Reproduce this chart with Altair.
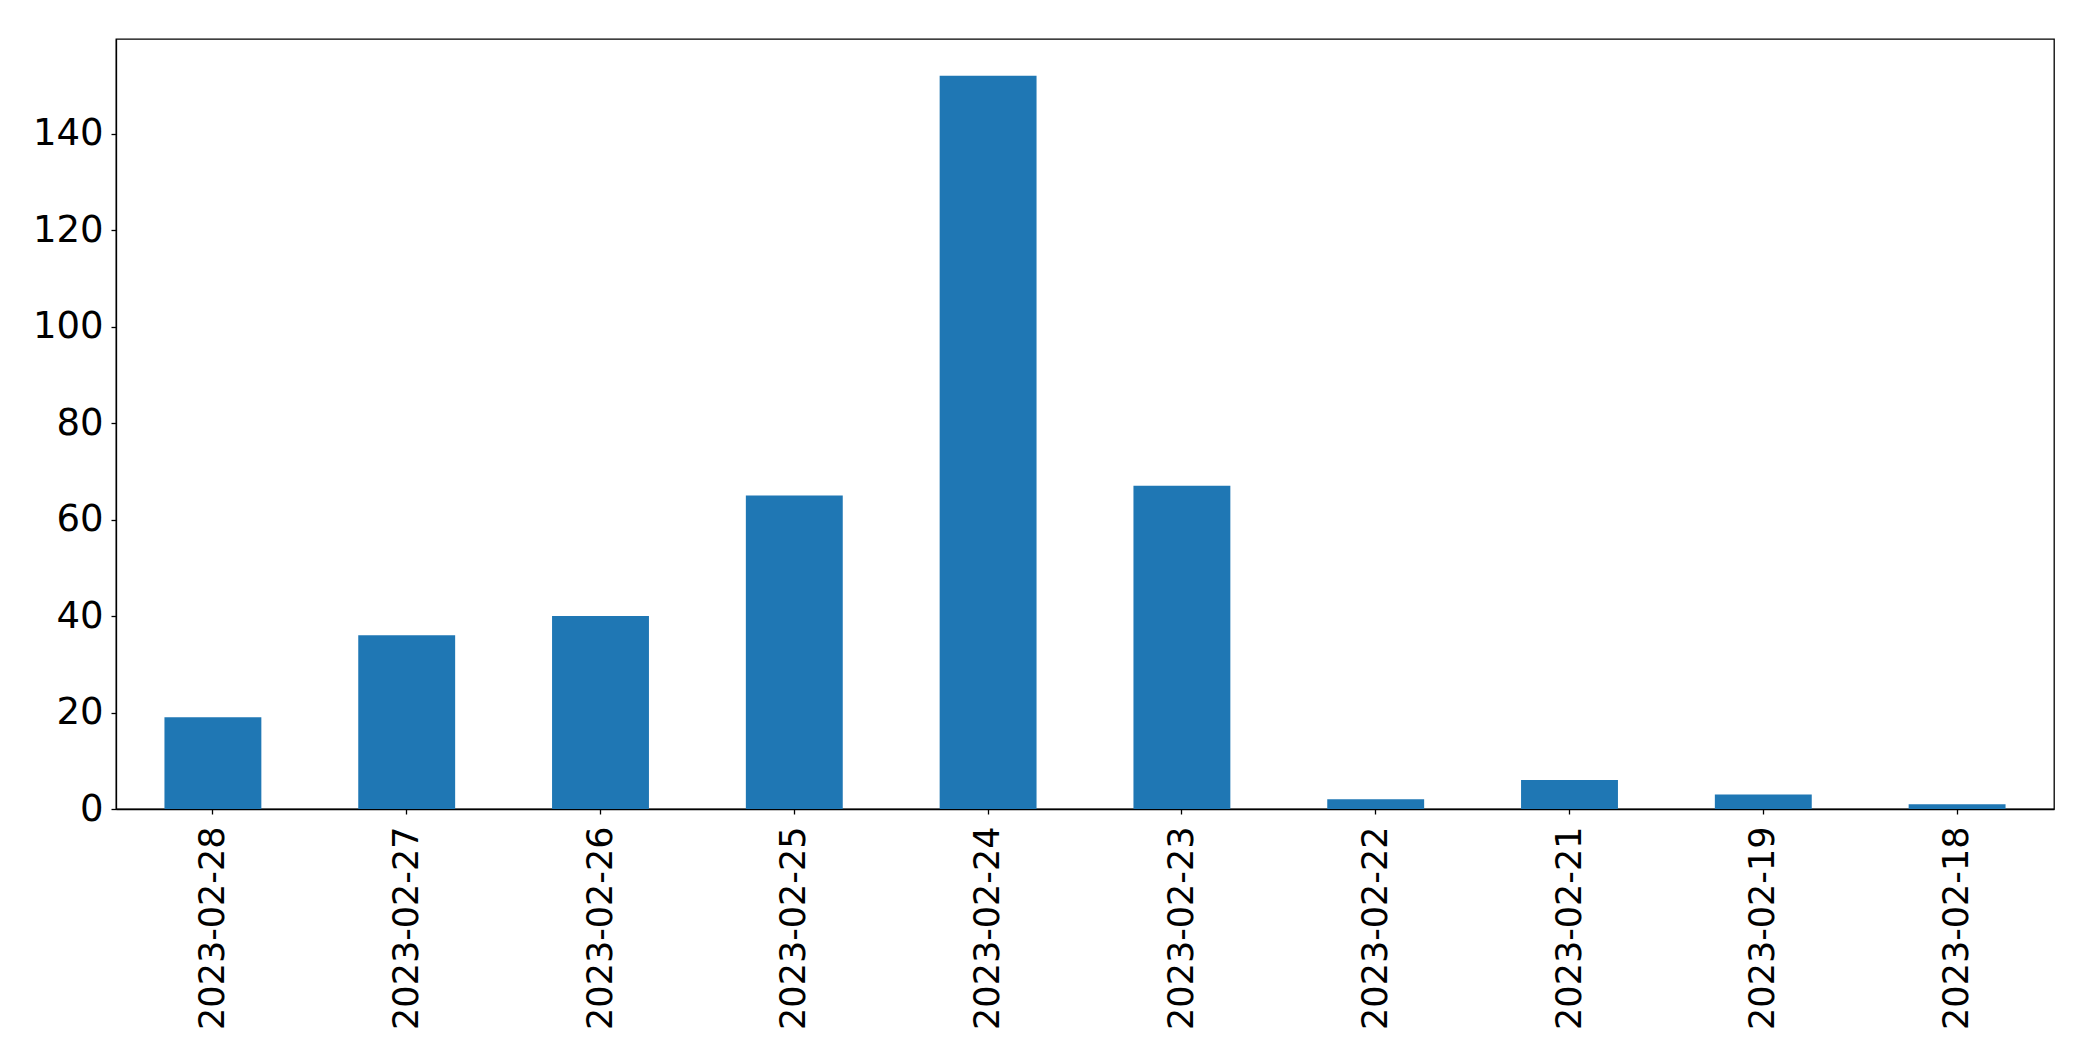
import altair as alt
import pandas as pd

dates = ["2023-02-28", "2023-02-27", "2023-02-26", "2023-02-25", "2023-02-24",
         "2023-02-23", "2023-02-22", "2023-02-21", "2023-02-19", "2023-02-18"]
counts = [19, 36, 40, 65, 152, 67, 2, 6, 3, 1]

df = pd.DataFrame({"date": dates, "count": counts})

FONT = "DejaVu Sans"

chart = alt.Chart(df).mark_bar(color="#1f77b4").encode(
    x=alt.X("date:N", sort=dates, title=None,
            scale=alt.Scale(paddingInner=0.5, paddingOuter=0.25),
            axis=alt.Axis(labelAngle=270, labelFontSize=35, labelFont=FONT,
                          labelColor="black", tickColor="black", domainColor="black",
                          tickSize=5, labelPadding=12, domainWidth=1.3, tickWidth=1.3,
                          labelOverlap=False, labelLimit=0)),
    y=alt.Y("count:Q", title=None,
            scale=alt.Scale(domain=[0, 159.6], nice=False, zero=True),
            axis=alt.Axis(values=[0, 20, 40, 60, 80, 100, 120, 140], grid=False,
                          labelFontSize=37, labelFont=FONT, labelColor="black",
                          tickColor="black", domainColor="black", tickSize=5,
                          labelPadding=8, domainWidth=1.3, tickWidth=1.3)),
).properties(
    width=1938, height=770,
    autosize=alt.AutoSizeParams(type="none"),
    padding={"left": 108, "top": 31, "right": 31, "bottom": 244},
).configure(background="white").configure_view(stroke="black", strokeWidth=1.3)

chart.save("out.html", embed_options={"renderer": "svg", "actions": False})
